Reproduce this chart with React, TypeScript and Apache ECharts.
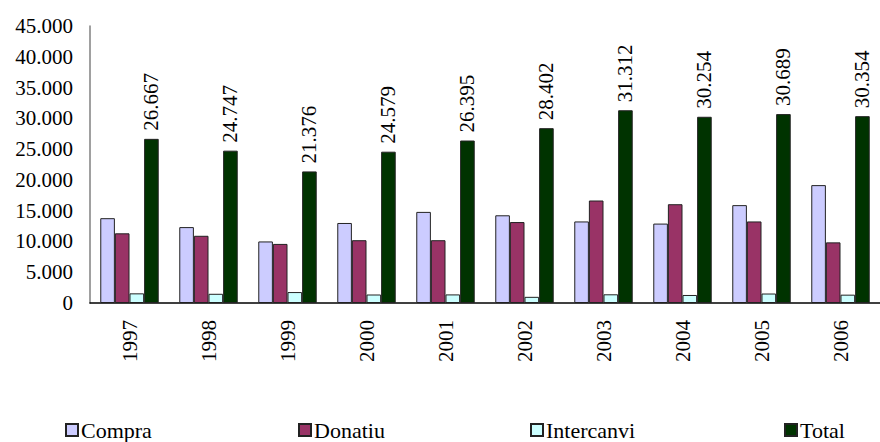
import React, { useEffect, useRef } from "react";
import * as echarts from "echarts";

const years = ["1997", "1998", "1999", "2000", "2001", "2002", "2003", "2004", "2005", "2006"];
const compra = [13780, 12330, 10000, 13000, 14800, 14250, 13250, 12900, 15900, 19150];
const donatiu = [11320, 10920, 9600, 10200, 10200, 13150, 16650, 16050, 13250, 9850];
const intercanvi = [1567, 1497, 1776, 1379, 1395, 1002, 1412, 1304, 1539, 1354];
const total = [26667, 24747, 21376, 24579, 26395, 28402, 31312, 30254, 30689, 30354];

const seriesNames = ["Compra", "Donatiu", "Intercanvi", "Total"];
const seriesColors = ["#CCCCFF", "#993366", "#CCFFFF", "#003300"];
const legendLefts = [65, 298, 530, 784];

const FONT = "'Liberation Serif', 'DejaVu Serif', serif";

const fmt = (v: number) => String(v).replace(/\B(?=(\d{3})+(?!\d))/g, ".");

export default function App() {
  const ref = useRef<HTMLDivElement>(null);
  useEffect(() => {
    if (!ref.current) return;
    const chart = echarts.init(ref.current, undefined, { renderer: "svg" });
    const data = [compra, donatiu, intercanvi, total];
    chart.setOption({
      animation: false,
      backgroundColor: "#ffffff",
      textStyle: { fontFamily: FONT },
      grid: { left: 90, right: 0, top: 26, bottom: 139, containLabel: false },
      legend: seriesNames.map((n, i) => ({
        data: [n],
        left: legendLefts[i],
        top: 419,
        itemWidth: 12,
        itemHeight: 12,
        itemGap: 4,
        icon: "rect",
        padding: 0,
        textStyle: { fontFamily: FONT, fontSize: 22, color: "#000", padding: [0, 0, 0, -2] },
      })),
      xAxis: {
        type: "category",
        data: years,
        axisLine: { show: true, lineStyle: { color: "#000", width: 1.5 } },
        axisTick: { show: false },
        axisLabel: { rotate: 90, margin: 17, fontSize: 21, fontFamily: FONT, color: "#000" },
        splitLine: { show: false },
      },
      yAxis: {
        type: "value",
        min: 0,
        max: 45000,
        interval: 5000,
        axisLine: { show: true, lineStyle: { color: "#808080", width: 1.5 } },
        axisTick: { show: false },
        splitLine: { show: false },
        axisLabel: {
          margin: 17,
          fontSize: 21,
          fontFamily: FONT,
          color: "#000",
          formatter: (v: number) => fmt(v),
        },
      },
      series: seriesNames.map((n, i) => ({
        name: n,
        type: "bar",
        data: data[i],
        barGap: "0%",
        barCategoryGap: "26%",
        itemStyle: {
          color: seriesColors[i],
          borderColor: "#222",
          borderWidth: 1,
        },
        label:
          i === 3
            ? {
                show: true,
                position: "top",
                rotate: 90,
                align: "left",
                verticalAlign: "middle",
                distance: 8,
                fontSize: 21,
                fontFamily: FONT,
                color: "#000",
                formatter: (p: any) => fmt(p.value),
              }
            : { show: false },
      })),
    });
    return () => chart.dispose();
  }, []);
  return (
    <div
      ref={ref}
      style={{ position: "fixed", left: 0, top: 0, width: 880, height: 442, background: "#fff" }}
    />
  );
}
